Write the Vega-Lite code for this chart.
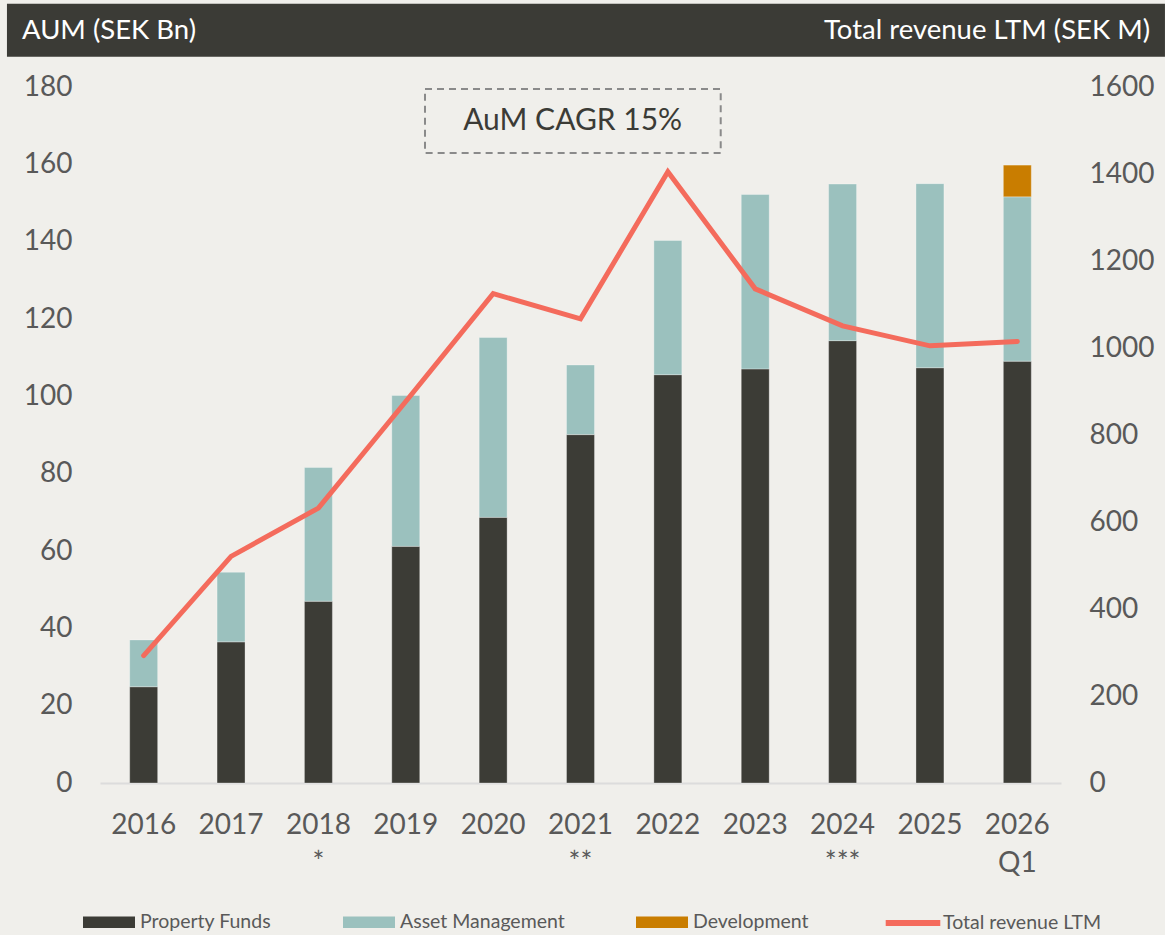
{
  "$schema": "https://vega.github.io/schema/vega-lite/v6.json",
  "background": "#f0efeb",
  "autosize": "none",
  "padding": {"left": 100, "top": 87, "right": 104, "bottom": 152},
  "width": 961,
  "height": 696,
  "config": {
    "font": "Lato",
    "view": {"stroke": null},
    "axis": {"labelFont": "Lato", "labelFontSize": 28, "labelColor": "#595959", "ticks": false, "domain": false, "grid": false, "title": null},
    "legend": {"labelFont": "Lato"}
  },
  "datasets": {
    "aum": [
      {"year": "2016", "series": "Property Funds", "aum": 24.9},
      {"year": "2016", "series": "Asset Management", "aum": 12.1},
      {"year": "2017", "series": "Property Funds", "aum": 36.5},
      {"year": "2017", "series": "Asset Management", "aum": 18.0},
      {"year": "2018 *", "series": "Property Funds", "aum": 47.0},
      {"year": "2018 *", "series": "Asset Management", "aum": 34.6},
      {"year": "2019", "series": "Property Funds", "aum": 61.2},
      {"year": "2019", "series": "Asset Management", "aum": 39.0},
      {"year": "2020", "series": "Property Funds", "aum": 68.7},
      {"year": "2020", "series": "Asset Management", "aum": 46.5},
      {"year": "2021 **", "series": "Property Funds", "aum": 90.1},
      {"year": "2021 **", "series": "Asset Management", "aum": 18.0},
      {"year": "2022", "series": "Property Funds", "aum": 105.6},
      {"year": "2022", "series": "Asset Management", "aum": 34.7},
      {"year": "2023", "series": "Property Funds", "aum": 107.1},
      {"year": "2023", "series": "Asset Management", "aum": 45.1},
      {"year": "2024 ***", "series": "Property Funds", "aum": 114.4},
      {"year": "2024 ***", "series": "Asset Management", "aum": 40.5},
      {"year": "2025", "series": "Property Funds", "aum": 107.4},
      {"year": "2025", "series": "Asset Management", "aum": 47.6},
      {"year": "2026 Q1", "series": "Property Funds", "aum": 109.1},
      {"year": "2026 Q1", "series": "Asset Management", "aum": 42.5},
      {"year": "2026 Q1", "series": "Development", "aum": 8.2}
    ],
    "revenue": [
      {"year": "2016", "series": "Total revenue LTM", "revenue": 293},
      {"year": "2017", "series": "Total revenue LTM", "revenue": 521},
      {"year": "2018 *", "series": "Total revenue LTM", "revenue": 632},
      {"year": "2019", "series": "Total revenue LTM", "revenue": 877},
      {"year": "2020", "series": "Total revenue LTM", "revenue": 1125},
      {"year": "2021 **", "series": "Total revenue LTM", "revenue": 1067},
      {"year": "2022", "series": "Total revenue LTM", "revenue": 1405},
      {"year": "2023", "series": "Total revenue LTM", "revenue": 1136},
      {"year": "2024 ***", "series": "Total revenue LTM", "revenue": 1051},
      {"year": "2025", "series": "Total revenue LTM", "revenue": 1005},
      {"year": "2026 Q1", "series": "Total revenue LTM", "revenue": 1015}
    ],
    "notes": [
      {"header_left": "AUM (SEK Bn)", "header_right": "Total revenue LTM (SEK M)", "box": "AuM CAGR 15%"}
    ]
  },
  "layer": [
    {
      "layer": [
        {
          "data": {"name": "aum"},
          "mark": {"type": "bar", "stroke": "#ffffff", "strokeOpacity": 0.3, "strokeWidth": 1},
          "encoding": {
            "x": {
              "field": "year", "type": "nominal", "sort": null,
              "scale": {"paddingInner": 0.68, "paddingOuter": 0.34},
              "axis": {"domain": true, "domainColor": "#dcdcdc", "domainWidth": 2, "labelAngle": 0, "labelPadding": 28, "labelLineHeight": 38, "labelExpr": "split(datum.label, ' ')"}
            },
            "y": {
              "field": "aum", "type": "quantitative", "stack": "zero",
              "scale": {"domain": [0, 180], "nice": false},
              "axis": {"orient": "left", "values": [0, 20, 40, 60, 80, 100, 120, 140, 160, 180], "labelPadding": 28}
            },
            "order": {"field": "aum", "sort": "descending"},
            "fill": {
              "field": "series", "type": "nominal",
              "scale": {
                "domain": ["Property Funds", "Asset Management", "Development"],
                "range": ["#3c3c36", "#9bc1be", "#c97d00"]
              },
              "legend": {
                "orient": "none", "legendX": -4, "legendY": 822, "direction": "horizontal", "columns": 3,
                "title": null, "padding": 0, "symbolSize": 676, "labelFontSize": 19.5, "labelColor": "#595959",
                "labelOffset": 18, "labelLimit": 400, "columnPadding": 71,
                "symbolType": "M-2,-0.45H2V0.45H-2Z", "symbolStrokeWidth": 0, "symbolOpacity": 1
              }
            }
          }
        },
        {
          "data": {"name": "revenue"},
          "mark": {"type": "line", "strokeWidth": 5, "strokeCap": "round"},
          "encoding": {
            "x": {"field": "year", "type": "nominal", "sort": null},
            "y": {
              "field": "revenue", "type": "quantitative",
              "scale": {"domain": [0, 1600], "nice": false},
              "axis": {"orient": "right", "values": [0, 200, 400, 600, 800, 1000, 1200, 1400, 1600], "format": "d", "labelPadding": 28}
            },
            "stroke": {
              "field": "series", "type": "nominal",
              "scale": {"domain": ["Total revenue LTM"], "range": ["#f46b5c"]},
              "legend": {
                "orient": "none", "legendX": 797, "legendY": 820, "direction": "horizontal",
                "title": null, "padding": 0, "symbolSize": 676, "labelFontSize": 19.5, "labelColor": "#595959",
                "labelOffset": 14, "labelLimit": 400,
                "symbolType": "M-2.1,0H2.1", "symbolStrokeWidth": 6, "symbolOpacity": 1
              }
            }
          }
        }
      ],
      "resolve": {"scale": {"y": "independent"}}
    },
    {
      "data": {"name": "notes"},
      "layer": [
        {
          "mark": {"type": "rect", "fill": "#3b3b36"},
          "encoding": {
            "x": {"datum": -1.065, "type": "quantitative", "scale": {"domain": [0, 11], "nice": false, "zero": false}, "axis": null},
            "x2": {"datum": 12.19},
            "y": {"datum": 187.8, "type": "quantitative", "scale": {"domain": [0, 180], "nice": false}, "axis": null},
            "y2": {"datum": 201.5}
          }
        },
        {
          "mark": {"type": "text", "align": "left", "baseline": "middle", "fontSize": 27.5, "color": "#ffffff", "font": "Lato"},
          "encoding": {
            "x": {"datum": -0.893, "type": "quantitative"},
            "y": {"datum": 194.6, "type": "quantitative"},
            "text": {"field": "header_left"}
          }
        },
        {
          "mark": {"type": "text", "align": "right", "baseline": "middle", "fontSize": 27.5, "color": "#ffffff", "font": "Lato"},
          "encoding": {
            "x": {"datum": 12.02, "type": "quantitative"},
            "y": {"datum": 194.6, "type": "quantitative"},
            "text": {"field": "header_right"}
          }
        },
        {
          "mark": {"type": "rect", "filled": false, "stroke": "#8a8a8a", "strokeWidth": 2, "strokeDash": [7, 5]},
          "encoding": {
            "x": {"datum": 3.72, "type": "quantitative"},
            "x2": {"datum": 7.105},
            "y": {"datum": 162.9, "type": "quantitative"},
            "y2": {"datum": 179.5}
          }
        },
        {
          "mark": {"type": "text", "fontSize": 30, "font": "Lato", "color": "#3b3b36", "align": "center", "baseline": "middle"},
          "encoding": {
            "x": {"datum": 5.41, "type": "quantitative"},
            "y": {"datum": 171.1, "type": "quantitative"},
            "text": {"field": "box"}
          }
        }
      ]
    }
  ],
  "resolve": {"scale": {"x": "independent", "y": "independent"}}
}
